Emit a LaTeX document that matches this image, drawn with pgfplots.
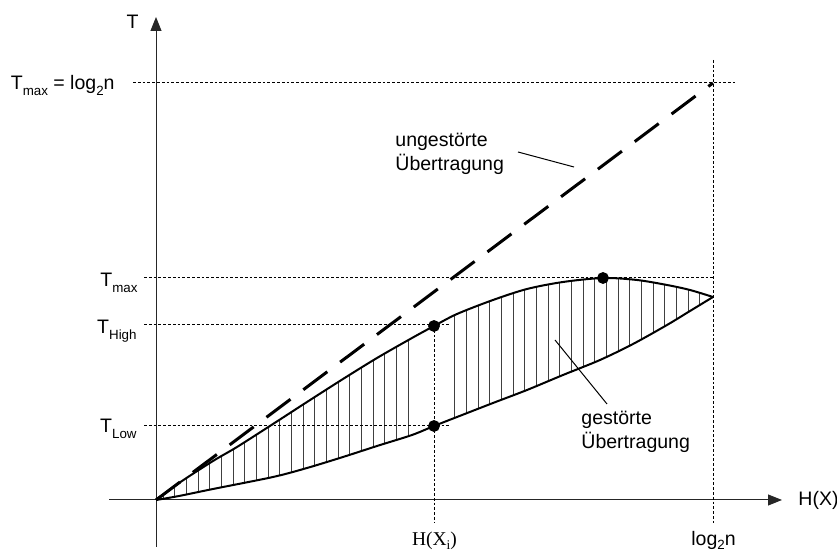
\documentclass[border=0pt]{standalone}
\usepackage{pgfplots}
\pgfplotsset{compat=1.18}
\usepgfplotslibrary{fillbetween}
\usetikzlibrary{patterns.meta,arrows.meta}
\usepackage{fontspec}
\setmainfont{Liberation Sans}
\newfontfamily\seriffont{Liberation Serif}
\newcommand\sub[1]{\raisebox{-2.6bp}{\fontsize{6.7}{8}\selectfont #1}}
\newcommand\ssub[1]{\raisebox{-1.8bp}{\fontsize{6.7}{8}\selectfont #1}}
\begin{document}
\fontsize{9.8}{12}\selectfont
\begin{tikzpicture}
\begin{axis}[
  x=0.5bp, y=0.5bp,
  axis lines=middle,
  xmin=-47, xmax=626, ymin=-47, ymax=483,
  enlargelimits=false,
  xtick=\empty, ytick=\empty,
  axis line style={line width=0.5bp, black!85, -{Triangle[length=7bp,width=5.5bp]}},
  clip=false,
]
% bounding box corners (reference image frame)
\coordinate (bl) at (axis cs:-156,-56);
\coordinate (tr) at (axis cs:681,500);

% dotted guide lines
\addplot[line width=0.5bp, dash pattern=on 1.4bp off 1bp] coordinates {(-23,417) (579,417)};
\addplot[line width=0.5bp, dash pattern=on 1.4bp off 1bp] coordinates {(-12,222) (557,222)};
\addplot[line width=0.5bp, dash pattern=on 1.4bp off 1bp] coordinates {(-12,175) (294,175)};
\addplot[line width=0.5bp, dash pattern=on 1.4bp off 1bp] coordinates {(-12,74) (294,74)};
\addplot[line width=0.5bp, dash pattern=on 1.4bp off 1bp] coordinates {(278,175) (278,-23)};
\addplot[line width=0.5bp, dash pattern=on 1.4bp off 1bp] coordinates {(557,440) (557,-23)};

% curves
\addplot[name path=upper, line width=1bp, smooth] coordinates {
 (0,0) (23,17) (57,39) (81,53) (117,76) (151,98) (187,121) (221,142) (256,162)
 (278,174) (301,186) (337,200) (371,211) (407,218) (447,222) (481,220)
 (511,215) (534,210) (557,203)};
\addplot[name path=lower, line width=1bp, smooth] coordinates {
 (0,0) (23,4) (57,11) (117,23) (151,32) (187,43) (221,54) (256,65) (278,74)
 (301,83) (337,97) (371,110) (407,125) (444,140) (477,156) (511,175)
 (534,189) (557,203)};

% hatching
\addplot[pattern={Lines[angle=90,distance=5.83bp,line width=0.45bp]}, pattern color=black!75, draw=none]
  fill between[of=upper and lower, soft clip={domain=0:262}];
\addplot[pattern={Lines[angle=90,distance=5.83bp,line width=0.45bp]}, pattern color=black!75, draw=none]
  fill between[of=upper and lower, soft clip={domain=296:557}];

% undisturbed transmission
\addplot[line width=1.5bp, dash pattern=on 15bp off 8bp] coordinates {(0,0) (557,417)};

% dots
\addplot[only marks, mark=*, mark size=2.75bp] coordinates {(278,174) (278,74) (447,222)};

% leader lines
\addplot[line width=0.5bp] coordinates {(399,160) (451,96)};
\addplot[line width=0.5bp] coordinates {(362,348) (418,333)};

% texts
\node[inner sep=0pt, anchor=base west] at (axis cs:239,353.3) {ungestörte};
\node[inner sep=0pt, anchor=base west] at (axis cs:239,329) {Übertragung};
\node[inner sep=0pt, anchor=base west] at (axis cs:425,75) {gestörte};
\node[inner sep=0pt, anchor=base west] at (axis cs:425,51) {Übertragung};

\node[inner sep=0pt, anchor=base east] at (axis cs:-41,410) {T\sub{max} = log\sub{2}n};
\node[inner sep=0pt, anchor=base east] at (axis cs:-18,213) {T\sub{max}};
\node[inner sep=0pt, anchor=base east] at (axis cs:-19,166) {T\sub{High}};
\node[inner sep=0pt, anchor=base east] at (axis cs:-19,67) {T\sub{Low}};
\node[inner sep=0pt, anchor=base] at (axis cs:-23.5,471) {T};
\node[inner sep=0pt, anchor=base west] at (axis cs:642,-6) {H(X)};
\node[inner sep=0pt, anchor=base] at (axis cs:278.5,-46) {\seriffont H(X\ssub{i})};
\node[inner sep=0pt, anchor=base] at (axis cs:557.5,-46) {log\ssub{2}n};
\end{axis}
\pgfresetboundingbox
\useasboundingbox (bl) rectangle (tr);
\end{tikzpicture}
\end{document}
